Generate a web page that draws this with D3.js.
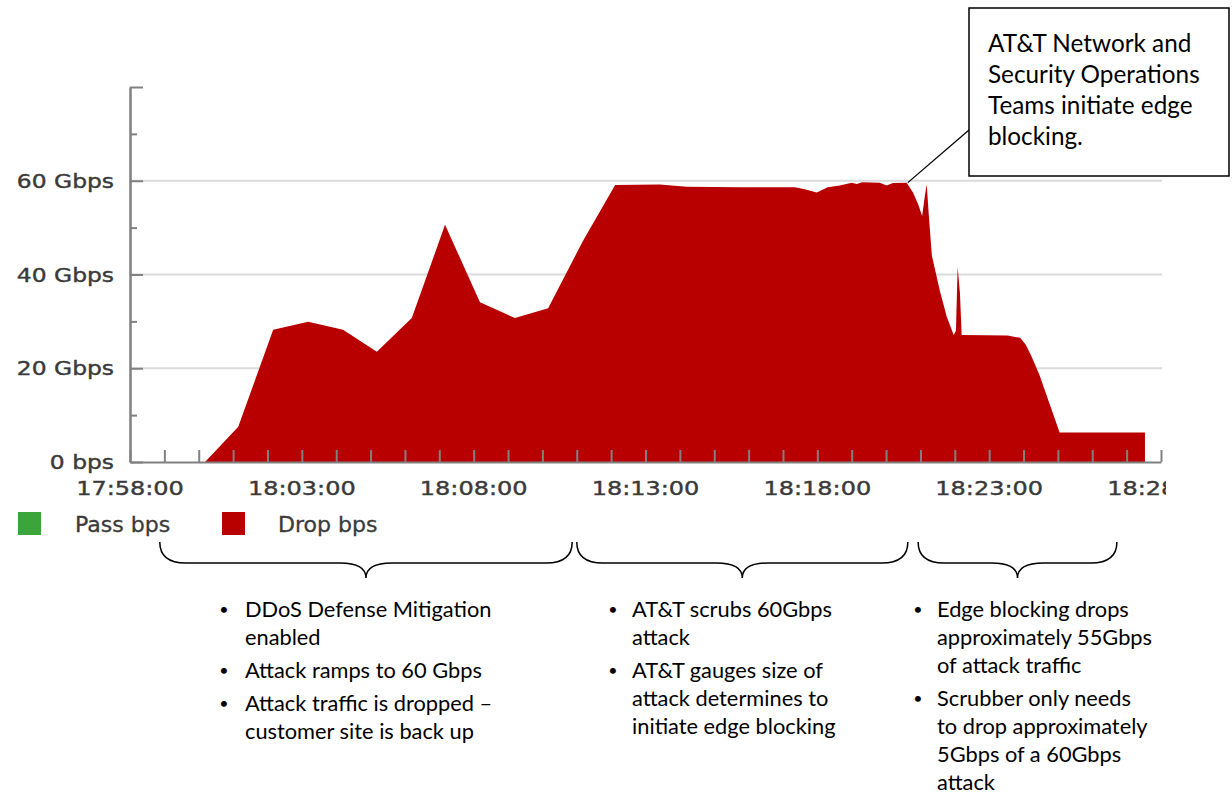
<!DOCTYPE html>
<html><head><meta charset="utf-8">
<script src="https://cdn.jsdelivr.net/npm/d3@7"></script>
<style>
html,body{margin:0;padding:0;background:#fff;}
svg{display:block;}
</style></head><body>
<svg id="c" width="1232" height="796"></svg>
<script>
// ---------- data ----------
const times = ["18:00:11","18:01:09","18:02:10","18:03:11","18:04:12","18:05:11","18:06:12","18:07:10",
  "18:08:11","18:09:12","18:10:10","18:11:11","18:12:07","18:13:25","18:14:12","18:15:45","18:17:21",
  "18:17:38","18:17:59","18:18:18","18:18:39","18:19:00","18:19:09","18:19:18","18:19:49","18:20:01",
  "18:20:12","18:20:36","18:20:47","18:20:56","18:21:03","18:21:08","18:21:11","18:21:15","18:21:20",
  "18:21:34","18:21:46","18:21:58","18:22:02","18:22:05","18:22:09","18:22:12","18:23:32","18:23:54",
  "18:24:04","18:24:14","18:24:28","18:25:03","18:27:32","18:27:32"];
const dropGbps = [0,7.5,28.2,29.9,28.2,23.5,30.7,50.6,
  34.1,30.7,32.8,47.2,59.1,59.2,58.7,58.6,58.6,
  58.2,57.5,58.6,59.0,59.6,59.3,59.7,59.6,59.0,
  59.5,59.6,57.5,55.0,52.5,57.0,59.2,52.0,44.0,
  36.5,31.0,27.1,28.0,41.6,36.0,27.1,27.0,26.5,
  25.0,22.5,18.5,6.3,6.3,0];
const yTickValues = [0,20,40,60];
const yTickLabels = ["0 bps","20 Gbps","40 Gbps","60 Gbps"];
const xTickLabels = ["17:58:00","18:03:00","18:08:00","18:13:00","18:18:00","18:23:00","18:28:00"];
const legendLabels = ["Pass bps","Drop bps"];
const legendColors = ["#3ba53b","#b80000"];
const calloutLines = ["AT&T Network and","Security Operations","Teams initiate edge","blocking."];
const calloutAnchor = ["18:20:38", 59.6];
const braceSpans = [["17:58:52","18:10:52"],["18:11:00","18:20:38"],["18:20:56","18:26:43"]];
const bulletCol1 = [["DDoS Defense Mitigation","enabled"],["Attack ramps to 60 Gbps"],["Attack traffic is dropped \u2013","customer site is back up"]];
const bulletCol2 = [["AT&T scrubs 60Gbps","attack"],["AT&T gauges size of","attack determines to","initiate edge blocking"]];
const bulletCol3 = [["Edge blocking drops","approximately 55Gbps","of attack traffic"],["Scrubber only needs","to drop approximately","5Gbps of a 60Gbps","attack"]];

// ---------- scales ----------
const parse = d3.timeParse("%H:%M:%S");
const x = d3.scaleTime().domain([parse("17:58:00"), parse("18:28:00")]).range([130, 1161]);
const y = d3.scaleLinear().domain([0, 80]).range([462, 87]);
const data = times.map((t, i) => ({t: parse(t), v: dropGbps[i]}));

const svg = d3.select("#c");
const axisFont = "'DejaVu Sans', sans-serif";
const noteFont = "Lato, 'Open Sans', sans-serif";
const labCol = "#3a3a3a";

// gridlines
svg.append("g").selectAll("line").data([20, 40, 60]).join("line")
  .attr("x1", x.range()[0]).attr("x2", x.range()[1] + 1)
  .attr("y1", d => y(d)).attr("y2", d => y(d))
  .attr("stroke", "#dadada").attr("stroke-width", 2);

// area
svg.append("path").datum(data)
  .attr("fill", legendColors[1])
  .attr("d", d3.area().x(d => x(d.t)).y0(y(0)).y1(d => y(d.v)));

// axes
const axCol = "#808080";
function styleAxis(g) {
  g.selectAll("path,line").attr("stroke", axCol).attr("stroke-width", 2);
  g.selectAll("text").remove();
}
svg.append("g").attr("transform", `translate(${x.range()[0]},0)`)
  .call(d3.axisLeft(y).tickValues([0,20,40,60,80]).tickSizeInner(-13).tickSizeOuter(0).tickFormat(""))
  .call(styleAxis);
svg.append("g").attr("transform", `translate(${x.range()[0]},0)`)
  .call(d3.axisLeft(y).tickValues([10,30,50,70]).tickSizeInner(-7).tickSizeOuter(0).tickFormat(""))
  .call(styleAxis);
svg.append("g").attr("transform", `translate(0,${y(0)})`)
  .call(d3.axisBottom(x).ticks(d3.timeMinute.every(1)).tickSizeInner(-12).tickSizeOuter(0).tickFormat(""))
  .call(styleAxis);

// y labels
svg.append("g").selectAll("text").data(yTickValues).join("text")
  .attr("transform", d => `translate(114,${y(d)}) scale(1.17,1)`)
  .attr("dy", "0.36em").attr("text-anchor", "end")
  .attr("font-family", axisFont).attr("font-size", 20).attr("fill", labCol)
  .attr("stroke", labCol).attr("stroke-width", 0.4)
  .text((d, i) => yTickLabels[i]);

// x labels (clipped at right like the reference)
svg.append("clipPath").attr("id", "xclip").append("rect")
  .attr("x", 0).attr("y", 460).attr("width", 1166).attr("height", 50);
svg.append("g").attr("clip-path", "url(#xclip)").selectAll("text").data(xTickLabels).join("text")
  .attr("transform", d => `translate(${x(parse(d))},495) scale(1.2,1)`)
  .attr("text-anchor", "middle")
  .attr("font-family", axisFont).attr("font-size", 20).attr("fill", labCol)
  .attr("stroke", labCol).attr("stroke-width", 0.4)
  .text(d => d);

// legend
const leg = [{sx: 18, tx: 75}, {sx: 222, tx: 278}];
legendLabels.forEach((lab, i) => {
  svg.append("rect").attr("x", leg[i].sx).attr("y", 512).attr("width", 23).attr("height", 23)
    .attr("fill", legendColors[i]);
  svg.append("text").attr("transform", `translate(${leg[i].tx},532) scale(1.05,1)`)
    .attr("font-family", axisFont).attr("font-size", 21).attr("fill", labCol)
    .attr("stroke", labCol).attr("stroke-width", 0.3).text(lab);
});

// callout
svg.append("line")
  .attr("x1", x(parse(calloutAnchor[0]))).attr("y1", y(calloutAnchor[1]))
  .attr("x2", 969).attr("y2", 130).attr("stroke", "#000").attr("stroke-width", 1.3);
svg.append("rect").attr("x", 969).attr("y", 8).attr("width", 260).attr("height", 168)
  .attr("fill", "#fff").attr("stroke", "#000").attr("stroke-width", 1.5);
svg.append("g").selectAll("text").data(calloutLines).join("text")
  .attr("x", 988).attr("y", (d, i) => 43 + i * 31.3).attr("dy", "0.35em")
  .attr("font-family", noteFont).attr("font-size", 24.3).attr("fill", "#000").text(d => d);

// braces
braceSpans.forEach(([a, b]) => {
  const x1 = x(parse(a)), x2 = x(parse(b)), xm = (x1 + x2) / 2;
  const yt = 542, ym = 563, yp = 578, r = 26;
  const p = `M${x1},${yt} Q${x1},${ym} ${x1 + r},${ym} L${xm - r},${ym} Q${xm},${ym} ${xm},${yp}` +
            ` Q${xm},${ym} ${xm + r},${ym} L${x2 - r},${ym} Q${x2},${ym} ${x2},${yt}`;
  svg.append("path").attr("d", p).attr("fill", "none").attr("stroke", "#000").attr("stroke-width", 1.5);
});

// bullets
function bullets(groups, bx, tx) {
  let cy = 609;
  groups.forEach(lines => {
    svg.append("text").attr("x", bx).attr("y", cy).attr("dy", "0.35em").attr("text-anchor", "middle")
      .attr("font-family", noteFont).attr("font-size", 16).text("\u2022");
    lines.forEach(l => {
      svg.append("text").attr("x", tx).attr("y", cy).attr("dy", "0.35em")
        .attr("font-family", noteFont).attr("font-size", 21.8).attr("fill", "#000").text(l);
      cy += 28;
    });
    cy += 5;
  });
}
bullets(bulletCol1, 224, 245);
bullets(bulletCol2, 613, 632);
bullets(bulletCol3, 918, 937);
</script>
</body></html>
